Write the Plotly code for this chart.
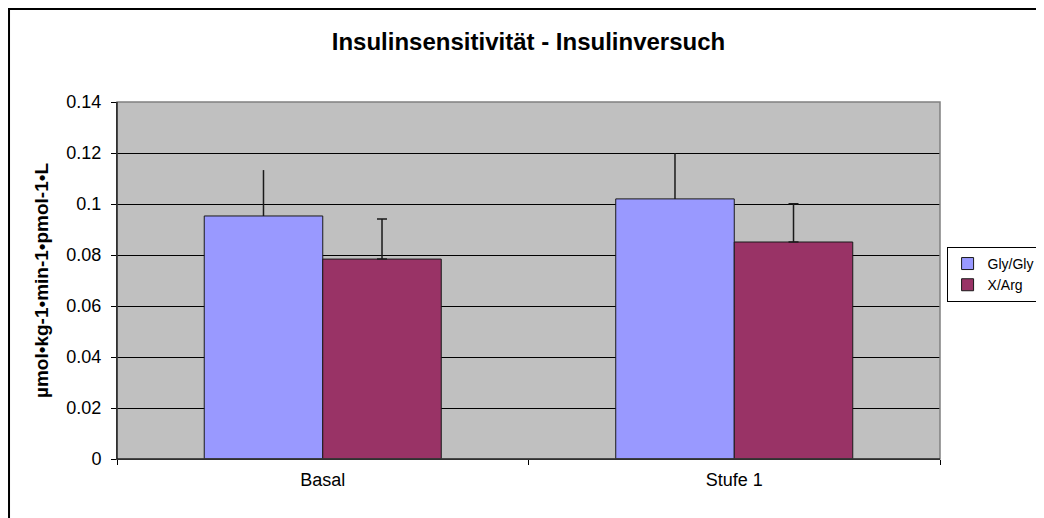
import plotly.graph_objects as go

categories = ["Basal", "Stufe 1"]
gly_values = [0.0953, 0.1020]
gly_err = [0.0180, 0.0180]
arg_values = [0.0784, 0.0851]
arg_err = [0.0157, 0.0150]
y_ticks = [0, 0.02, 0.04, 0.06, 0.08, 0.1, 0.12, 0.14]
y_tick_text = ["0", "0.02", "0.04", "0.06", "0.08", "0.1", "0.12", "0.14"]

font = "Liberation Sans, Arial, sans-serif"

fig = go.Figure()
fig.add_trace(go.Bar(
    name="Gly/Gly", x=categories, y=gly_values,
    marker=dict(color="#9999FF", line=dict(color="#1a1a1a", width=1)),
    error_y=dict(type="data", array=gly_err, arrayminus=[0, 0], symmetric=False,
                 color="#1a1a1a", thickness=1.5, width=0),
))
fig.add_trace(go.Bar(
    name="X/Arg", x=categories, y=arg_values,
    marker=dict(color="#993366", line=dict(color="#1a1a1a", width=1)),
    error_y=dict(type="data", array=arg_err, arrayminus=[0, 0], symmetric=False,
                 color="#1a1a1a", thickness=1.5, width=5),
))

# page has an 8px body margin, so the figure is sized to fill the rest of the window
fig.update_layout(
    width=1036, height=510,
    margin=dict(l=109, r=104, t=94, b=59, autoexpand=False),
    paper_bgcolor="white", plot_bgcolor="#C0C0C0",
    barmode="group", bargap=0.424, bargroupgap=0,
    font=dict(family=font, size=18, color="black"),
    title=dict(text="<b>Insulinsensitivität - Insulinversuch</b>", x=0.5, xref="paper",
               y=0.935, yref="container", yanchor="middle", font=dict(size=24, family=font)),
    legend=dict(x=1.008, y=0.594, xanchor="left", yanchor="top",
                bordercolor="black", borderwidth=1, bgcolor="white",
                font=dict(size=14), tracegroupgap=0, itemwidth=30),
    showlegend=True,
)
fig.update_xaxes(
    showline=True, linecolor="black", linewidth=1,
    ticks="outside", tickson="boundaries", ticklen=5, tickcolor="black",
    showgrid=False, mirror=False, ticklabelstandoff=4,
)
fig.update_yaxes(
    range=[0, 0.14], tickvals=y_ticks, ticktext=y_tick_text,
    showline=True, linecolor="black", linewidth=1,
    ticks="outside", ticklen=5, tickcolor="black",
    showgrid=True, gridcolor="black", gridwidth=1, zeroline=False,
    ticklabelstandoff=6,
    title=dict(text="<b>µmol•kg-1•min-1•pmol-1•L</b>", font=dict(size=19), standoff=12),
)
# plot area border (grey) and outer chart frame
fig.add_shape(type="rect", xref="paper", yref="paper", x0=0, y0=0, x1=1, y1=1,
              line=dict(color="#808080", width=1.5), layer="above")
fig.add_shape(type="line", xref="paper", yref="paper", x0=0, y0=0, x1=0, y1=1,
              line=dict(color="black", width=1), layer="above")
fig.add_shape(type="line", xref="paper", yref="paper", x0=0, y0=0, x1=1, y1=0,
              line=dict(color="black", width=1), layer="above")
fig.add_shape(type="path", xref="paper", yref="paper",
              path="M 1.3,1.2605 L -0.1312,1.2605 L -0.1312,-0.3",
              line=dict(color="black", width=2))

fig.write_html("out.html")
